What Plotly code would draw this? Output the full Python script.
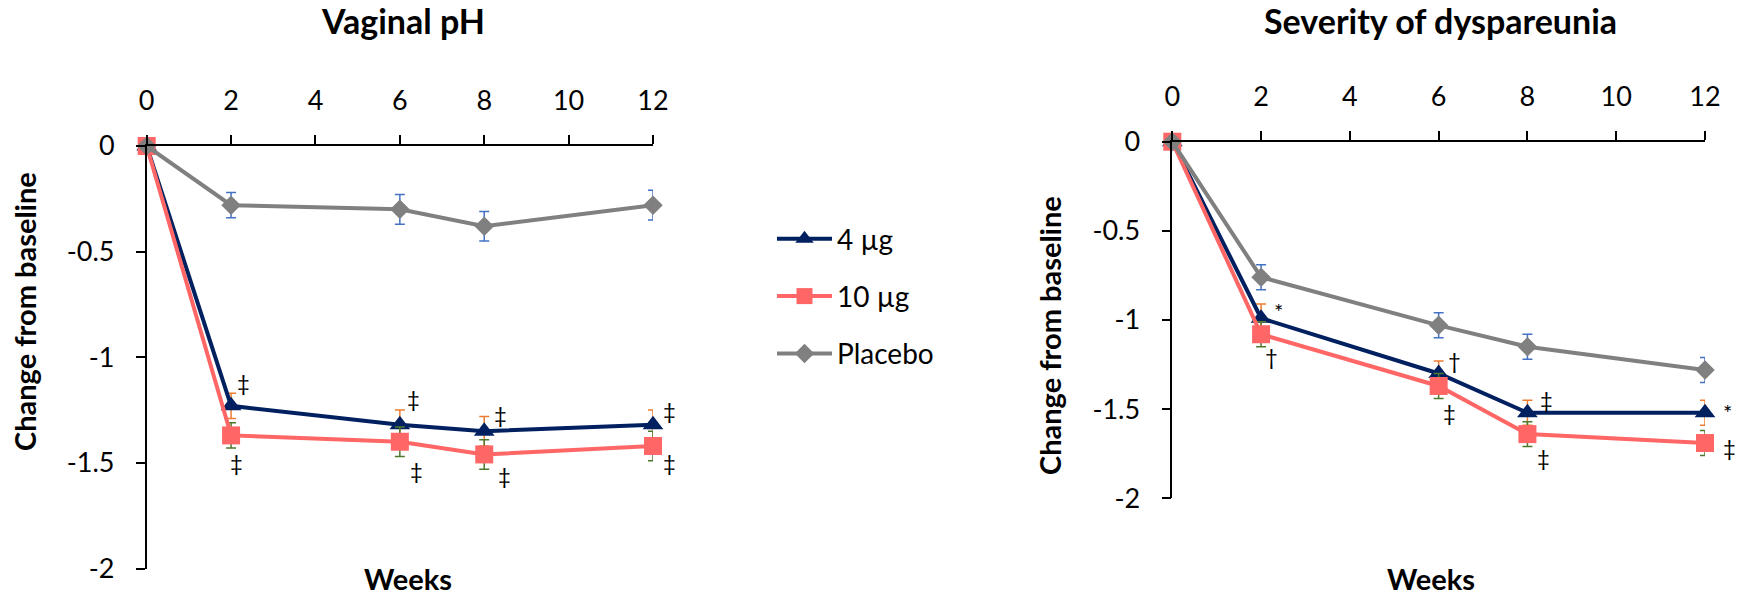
import plotly.graph_objects as go

# ---------------- data ----------------
weeks = [0, 2, 6, 8, 12]
x_ticks = [0, 2, 4, 6, 8, 10, 12]
y_tick_vals = [0, -0.5, -1, -1.5, -2]
y_tick_text = ["0", "-0.5", "-1", "-1.5", "-2"]

series_names = ["4 µg", "10 µg", "Placebo"]

# Vaginal pH: change from baseline
ph_4 = [0, -1.23, -1.32, -1.35, -1.32]
ph_4_err = [None, 0.06, 0.07, 0.07, 0.07]
ph_10 = [0, -1.37, -1.40, -1.46, -1.42]
ph_10_err = [None, 0.06, 0.07, 0.07, 0.07]
ph_pl = [0, -0.28, -0.30, -0.38, -0.28]
ph_pl_err = [None, 0.06, 0.07, 0.07, 0.07]

# Severity of dyspareunia: change from baseline
dys_4 = [0, -0.99, -1.30, -1.52, -1.52]
dys_4_err = [None, 0.08, 0.07, 0.07, 0.07]
dys_10 = [0, -1.08, -1.37, -1.64, -1.69]
dys_10_err = [None, 0.07, 0.07, 0.07, 0.07]
dys_pl = [0, -0.76, -1.03, -1.15, -1.28]
dys_pl_err = [None, 0.07, 0.07, 0.07, 0.07]

# significance marks
ph_marks_4 = ["", "‡", "‡", "‡", "‡"]
ph_marks_10 = ["", "‡", "‡", "‡", "‡"]
dys_marks_4 = ["", "*", "†", "‡", "*"]
dys_marks_10 = ["", "†", "‡", "‡", "‡"]

# ---------------- style ----------------
W, H = 1744, 598
FONT = "Lato"
NAVY = "#002060"
SALMON = "#FF6666"
GREY = "#808080"
ORANGE = "#ED7D31"
GREEN = "#4E7A2E"
BLUE = "#4472C4"


def px_x(p):
    return p / W


def px_y(p):
    return 1 - p / H


fig = go.Figure()

panels = [
    ("x", "y", [(ph_4, ph_4_err), (ph_10, ph_10_err), (ph_pl, ph_pl_err)], True),
    ("x2", "y2", [(dys_4, dys_4_err), (dys_10, dys_10_err), (dys_pl, dys_pl_err)], False),
]
styles = [
    dict(color=NAVY, symbol="triangle-up", size=18, err=ORANGE),
    dict(color=SALMON, symbol="square", size=18, err=GREEN),
    dict(color=GREY, symbol="diamond", size=15, err=BLUE),
]

for xa, ya, data, show in panels:
    for (vals, errs), st, name in zip(data, styles, series_names):
        fig.add_trace(go.Scatter(
            x=weeks, y=vals, name=name, mode="lines+markers",
            xaxis=xa, yaxis=ya, showlegend=show, legendgroup=name,
            line=dict(color=st["color"], width=4),
            marker=dict(symbol=st["symbol"], size=st["size"], color=st["color"]),
            error_y=dict(type="data", array=errs, color=st["err"], thickness=1.5, width=5),
            cliponaxis=False,
        ))

# significance annotations (offsets in pixels from the data point)
mark_sets = [
    ("x", "y", ph_4, ph_marks_4, [(0, 0), (12, 23), (14, 26), (16, 17), (16, 14)]),
    ("x", "y", ph_10, ph_marks_10, [(0, 0), (5, -27), (17, -29), (20, -21), (16, -17)]),
    ("x2", "y2", dys_4, dys_marks_4, [(0, 0), (17, 7), (16, 13), (19, 13), (22, 0)]),
    ("x2", "y2", dys_10, dys_marks_10, [(0, 0), (10, -22), (11, -27), (16, -23), (24, -4)]),
]
for xa, ya, vals, marks, offs in mark_sets:
    for wk, v, m, (dx, dy) in zip(weeks, vals, marks, offs):
        if m:
            fig.add_annotation(x=wk, y=v, xref=xa, yref=ya, text=m, showarrow=False,
                               xshift=dx, yshift=dy,
                               font=dict(family=FONT, size=22, color="black"))

# titles and axis labels
texts = [
    ("<b>Vaginal pH</b>", 403, 21, 34, 0, "middle"),
    ("<b>Severity of dyspareunia</b>", 1440, 21, 34, 0, "middle"),
    ("<b>Weeks</b>", 408, 598, 29, 0, "bottom"),
    ("<b>Weeks</b>", 1431, 598, 29, 0, "bottom"),
    ("<b>Change from baseline</b>", 24, 312, 29, -90, "middle"),
    ("<b>Change from baseline</b>", 1049, 336, 29, -90, "middle"),
]
for t, x, y, s, ang, ya in texts:
    fig.add_annotation(x=px_x(x), y=px_y(y), xref="paper", yref="paper", text=t,
                       showarrow=False, textangle=ang, xanchor="center", yanchor=ya,
                       font=dict(family=FONT, size=s, color="black"))

axis_common = dict(showgrid=False, zeroline=False, showline=True, linecolor="black",
                   linewidth=1.5, ticks="outside", ticklen=9, tickwidth=1.5,
                   tickcolor="black", automargin=False,
                   tickfont=dict(family=FONT, size=27, color="black"))

fig.update_layout(
    width=W, height=H,
    margin=dict(l=0, r=0, t=0, b=0),
    paper_bgcolor="white", plot_bgcolor="white",
    font=dict(family=FONT, color="black"),
    xaxis=dict(domain=[px_x(146.7), px_x(653)], range=[0, 12], side="top", anchor="y",
               tickvals=x_ticks, ticklabelstandoff=14, **axis_common),
    yaxis=dict(domain=[px_y(568.5), px_y(146)], range=[-2, 0], anchor="x",
               tickvals=y_tick_vals, ticktext=y_tick_text, ticklabelstandoff=16, **axis_common),
    xaxis2=dict(domain=[px_x(1172.3), px_x(1705)], range=[0, 12], side="top", anchor="y2",
                tickvals=x_ticks, ticklabelstandoff=14, **axis_common),
    yaxis2=dict(domain=[px_y(498.3), px_y(141.7)], range=[-2, 0], anchor="x2",
                tickvals=y_tick_vals, ticktext=y_tick_text, ticklabelstandoff=16, **axis_common),
    legend=dict(x=px_x(772), y=px_y(214), xanchor="left", yanchor="top",
                font=dict(family=FONT, size=28, color="black"),
                itemwidth=55, tracegroupgap=18, bgcolor="rgba(0,0,0,0)"),
)

fig.write_html("out.html", config={"displayModeBar": False},
               post_script="document.body.style.margin='0';document.body.style.overflow='hidden';")
